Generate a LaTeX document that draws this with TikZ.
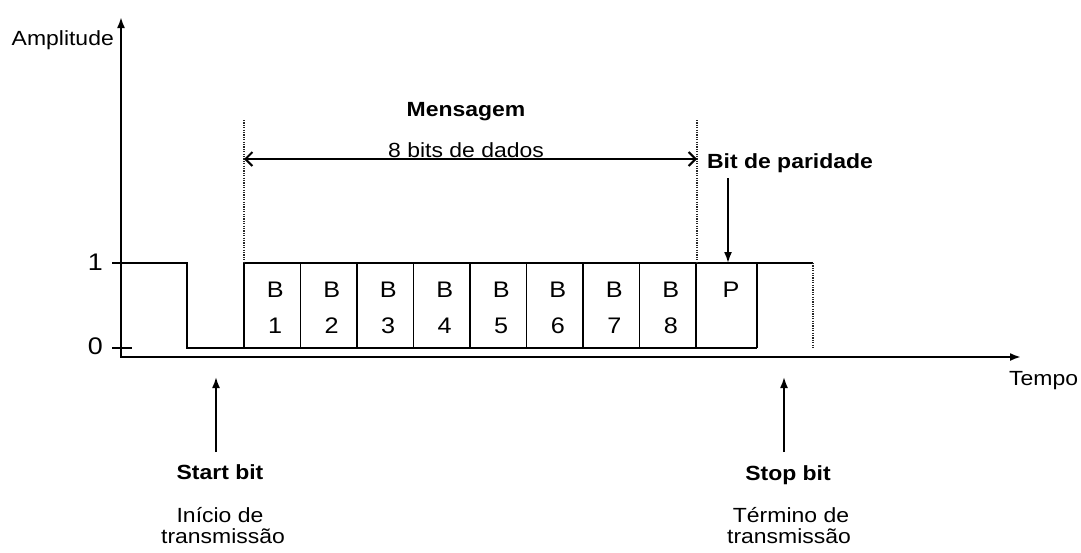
\documentclass[tikz,border=0pt]{standalone}
\usepackage{fontspec}
\setmainfont[FakeStretch=1.12]{Liberation Sans}
\usetikzlibrary{arrows.meta}
\begin{document}
\begin{tikzpicture}[x=1pt,y=-1pt,
  txt/.style={font=\fontsize{20.5}{24}\selectfont, inner sep=0pt, anchor=base},
  btxt/.style={txt, font=\fontsize{20.5}{24}\selectfont\bfseries},
  boxtxt/.style={txt, font=\fontsize{22.5}{26}\selectfont},
  lvltxt/.style={txt, anchor=base east, font=\fontsize{24}{28}\selectfont},
  axis/.style={line width=2pt, {Latex[length=11pt,width=8pt]}-{Latex[length=11pt,width=8pt]}},
  sig/.style={line width=1.2pt},
  dots/.style={line width=1.6pt, dash pattern=on 1.2pt off 1.2pt, black!85},
  pointer/.style={line width=1.8pt, -{Latex[length=11pt,width=8pt]}},
  span/.style={line width=2pt, {Straight Barb[length=7pt,width=14pt]}-{Straight Barb[length=7pt,width=14pt]}}
]
\useasboundingbox (0,0) rectangle (1081,552);
% axes
\coordinate (O) at (121,357);
\coordinate (ytip) at (121,17);
\coordinate (xtip) at (1021,357);
\draw[axis] (ytip) -- (O) -- (xtip);
% signal
\draw[sig] (112,263) -- (187,263) -- (187,348) -- (244,348) -- (244,263) -- (813,263);
\draw[sig] (244,348) -- (757,348);
\draw[sig] (112,348) -- (132,348);
\foreach \i in {1,...,8} {
  \pgfmathsetmacro{\bx}{244+\i*56.5}
  \draw[sig] (\bx,263) -- (\bx,348);
}
\draw[sig] (757,263) -- (757,348);
% dotted markers
\draw[dots] (244,120) -- (244,263);
\draw[dots] (697,120) -- (697,263);
\draw[dots] (813,263) -- (813,348);
% span arrow
\coordinate (spanL) at (244,159);
\coordinate (spanR) at (697,159);
\draw[span] (spanL) -- (spanR);
% labels
\node[txt, anchor=base east] (amp) at (114,45) {Amplitude};
\node[lvltxt] (one) at (103,270) {1};
\node[lvltxt] (zero) at (103,354) {0};
\node[txt, anchor=base west] (tempo) at (1009,385) {Tempo};
\node[btxt] (msg) at (466,116) {Mensagem};
\node[txt] (dados) at (466,157) {8 bits de dados};
\node[btxt] (par) at (790,168) {Bit de paridade};
\coordinate (parstart) at (728,178);
\coordinate (partip) at (728,263);
\draw[pointer] (parstart) -- (partip);
% box labels
\foreach \i in {1,...,8} {
  \pgfmathsetmacro{\tx}{244+(\i-0.5)*56.5+3}
  \node[boxtxt] (b\i) at (\tx,297) {B};
  \node[boxtxt] (n\i) at (\tx,333) {\i};
}
\node[boxtxt] (p) at (731,297) {P};
% start bit
\node[btxt] (start) at (220,479) {Start bit};
\node[txt] (start1) at (220,522) {Início de};
\node[txt] (start2) at (223,543) {transmissão};
\coordinate (startbase) at (216,452);
\coordinate (starttip) at (216,377);
\draw[pointer] (startbase) -- (starttip);
% stop bit
\node[btxt] (stop) at (788,480) {Stop bit};
\node[txt] (stop1) at (791,522) {Término de};
\node[txt] (stop2) at (789,543) {transmissão};
\coordinate (stopbase) at (784,452);
\coordinate (stoptip) at (784,377);
\draw[pointer] (stopbase) -- (stoptip);
\end{tikzpicture}
\end{document}
